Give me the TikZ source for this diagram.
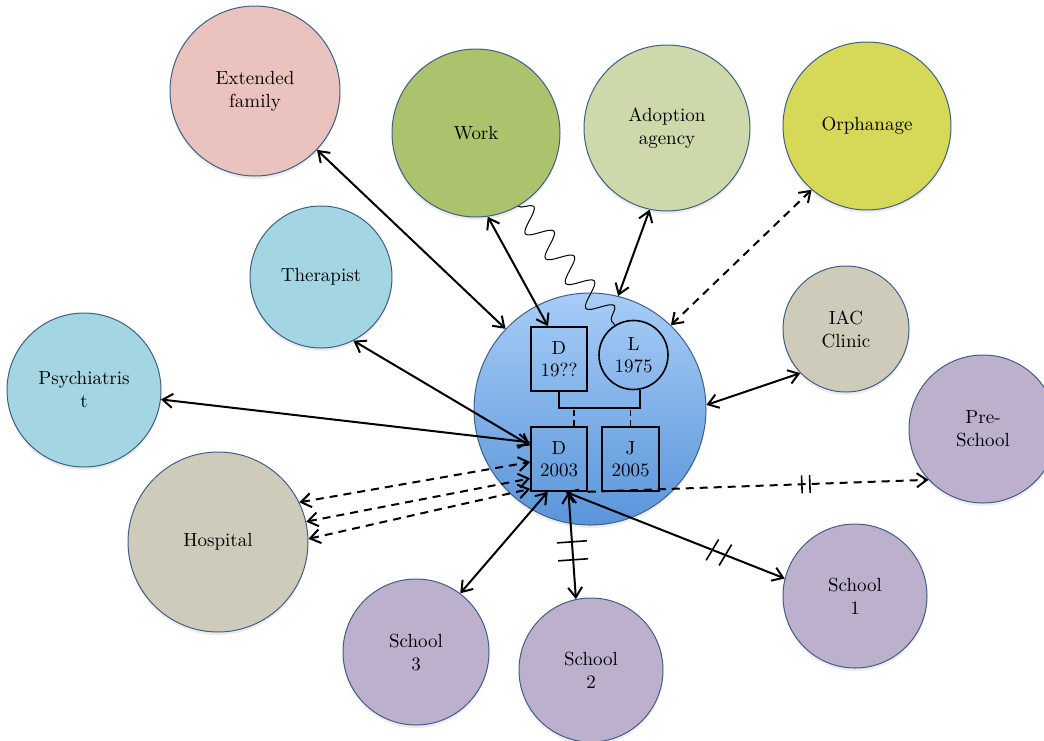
\documentclass[tikz,border=0pt]{standalone}
\usepackage{tikz}
\usetikzlibrary{arrows.meta,decorations.pathmorphing,decorations.markings,shadows}

\definecolor{rimcol}{HTML}{3E5F86}
\definecolor{extcol}{HTML}{EBC3BE}
\definecolor{workcol}{HTML}{AAC36C}
\definecolor{adoptcol}{HTML}{CDD9AA}
\definecolor{orphcol}{HTML}{D6D958}
\definecolor{carecol}{HTML}{A3D6E2}
\definecolor{clincol}{HTML}{CFCBBA}
\definecolor{schoolcol}{HTML}{BDB0CD}
\definecolor{hometop}{HTML}{A7CDF7}
\definecolor{homebot}{HTML}{5A95DA}

\tikzset{
  sys/.style={circle,draw=rimcol,line width=.5pt,inner sep=0pt,align=center,
    font=\fontsize{9.5}{11.5}\selectfont,
    drop shadow={opacity=.15,shadow xshift=0pt,shadow yshift=-1.5pt}},
  person/.style={draw,line width=.8pt,inner sep=0pt,align=center,
    font=\fontsize{9.5}{11}\selectfont},
  link/.style={<->,line width=1pt},
  dlink/.style={link,dash pattern=on 4pt off 3pt},
  brk/.style n args={4}{postaction={decorate,decoration={markings,
    mark=at position #1 with {\draw[-,solid,line width=.8pt]
      (-#2-#4,-#3) -- (-#2+#4,#3) (#2-#4,-#3) -- (#2+#4,#3);}}}}
}

\begin{document}
\begin{tikzpicture}[x=0.5pt,y=-0.5pt,>={Straight Barb[length=5pt,width=7pt]}]
  \useasboundingbox (0,0) rectangle (1044,740);

  % the family in the middle
  \node[sys,minimum size=116pt,top color=hometop,bottom color=homebot] (home) at (590,409) {};
  \node[person,minimum width=28pt,minimum height=32pt] (d1) at (559,359) {D\\19??};
  \node[person,circle,minimum size=34.5pt] (l1) at (633.5,355) {L\\1975};
  \node[person,minimum width=28pt,minimum height=32pt] (d2) at (559,459) {D\\2003};
  \node[person,minimum width=28.5pt,minimum height=32pt] (j1) at (630.5,459) {J\\2005};
  \draw[line width=.8pt] (d1.south) -- ++(0,16) -| (l1.-79);
  \draw[line width=.8pt,dash pattern=on 3pt off 2pt] ([xshift=7.5pt]d2.north) -- ++(0,-20);
  \draw[line width=.8pt,dash pattern=on 3pt off 2pt] (j1.north) -- ++(0,-20);

  % surrounding systems
  \node[sys,minimum size=85pt,fill=extcol] (ext) at (255,91) {Extended\\family};
  \node[sys,minimum size=84pt,fill=workcol] (work) at (476,133) {Work};
  \node[sys,minimum size=83pt,fill=adoptcol] (adopt) at (667,128) {Adoption\\agency};
  \node[sys,minimum size=84pt,fill=orphcol] (orph) at (867,126) {Orphanage};
  \node[sys,minimum size=71pt,fill=carecol] (ther) at (321,277) {Therapist};
  \node[sys,minimum size=77pt,fill=carecol] (psych) at (84,390) {Psychiatris\\t};
  \node[sys,minimum size=90pt,fill=clincol] (hosp) at (218,542) {Hospital};
  \node[sys,minimum size=63pt,fill=clincol] (iac) at (846,329) {IAC\\Clinic};
  \node[sys,minimum size=74pt,fill=schoolcol] (pre) at (983,429) {Pre-\\School};
  \node[sys,minimum size=72pt,fill=schoolcol] (sch1) at (855,596) {School\\1};
  \node[sys,minimum size=72pt,fill=schoolcol] (sch2) at (591,670) {School\\2};
  \node[sys,minimum size=73pt,fill=schoolcol] (sch3) at (416,652) {School\\3};

  % links
  \draw[link] (ext) -- (home);
  \draw[link] (work.-82) -- ([xshift=-5.5pt]d1.north);
  \draw[line width=.5pt,decorate,decoration={snake,segment length=16pt,amplitude=6pt}] (work.-60) -- (l1.122);
  \draw[link] (adopt.-102) -- (home.76);
  \draw[dlink] (orph.-131) -- (home.46);
  \draw[link] (iac.-136) -- (home.2);
  \draw[link] (ther.-63) -- (d2.155);
  \draw[link] (psych.-7) -- (d2.150);
  \draw[dlink] (hosp.26) -- (d2.186);
  \draw[dlink] (hosp.13) -- (d2.214);
  \draw[dlink] (hosp.2) -- (d2.226);
  \draw[->,line width=1pt,dash pattern=on 4pt off 3pt,brk={.64}{2pt}{4.5pt}{0pt}] (d2.south east) -- (pre.-137);
  \draw[link,brk={.7}{3.5pt}{6pt}{1pt}] (d2.-79) -- (sch1.166);
  \draw[link,brk={.55}{4.5pt}{7.5pt}{0pt}] (d2.-74) -- (sch2.102);
  \draw[link] (d2.-109) -- (sch3.53);
\end{tikzpicture}
\end{document}
